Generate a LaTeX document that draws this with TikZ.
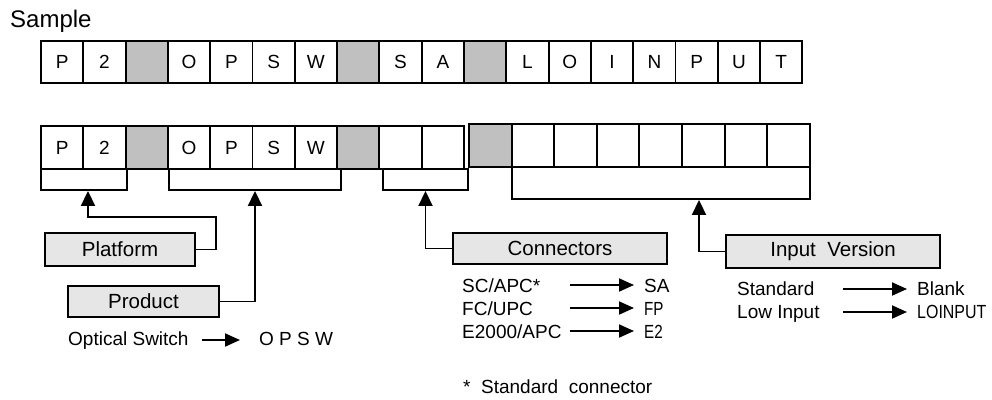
\documentclass[tikz,border=0pt]{standalone}
\usepackage{fontspec}
\setmainfont{Liberation Sans}
\usetikzlibrary{arrows.meta}

\definecolor{cellgray}{RGB}{192,192,192}
\definecolor{boxgray}{RGB}{230,230,230}

\tikzset{
  cell/.style={draw, line width=1.9pt, minimum width=42.3pt, minimum height=42pt,
    inner sep=0pt, font=\fontsize{19}{22}\selectfont},
  graycell/.style={cell, fill=cellgray},
  bracket/.style={draw, line width=1.9pt, inner sep=0pt},
  labelbox/.style={draw, line width=1.9pt, fill=boxgray, inner sep=0pt,
    font=\fontsize{20.5}{24}\selectfont},
  link/.style={line width=1.9pt, -{Triangle[length=15pt,width=14pt]}},
  maparrow/.style={line width=1.9pt, -{Triangle[length=15pt,width=13pt]}},
  txt/.style={anchor=base west, inner sep=0pt, font=\fontsize{19}{22}\selectfont}
}

\begin{document}
\begin{tikzpicture}[x=1pt,y=-1pt]
  \useasboundingbox (0,0) rectangle (992,399);

  \def\xa{41}
  \def\w{42.3}
  \def\xb{469}
  \def\wb{42.6}

  \node[txt, font=\fontsize{24}{28}\selectfont] (sample) at (10,27) {Sample};

  %top row
  \foreach \l [count=\i from 0] in {P,2,-,O,P,S,W,-,S,A,-,L,O,I,N,P,U,T}{
    \if\l-
      \node[graycell] (t\i) at (\xa+\w/2+\i*\w,62) {};
    \else
      \node[cell] (t\i) at (\xa+\w/2+\i*\w,62) {\l};
    \fi
  }

  %bottom row
  \foreach \l [count=\i from 0] in {P,2,-,O,P,S,W,-,.,.}{
    \if\l-
      \node[graycell, minimum height=43pt] (c\i) at (\xa+\w/2+\i*\w,147.5) {};
    \else
      \node[cell, minimum height=43pt] (c\i) at (\xa+\w/2+\i*\w,147.5) {\if\l.\else\l\fi};
    \fi
  }
  \foreach \l [count=\i from 0] in {-,.,.,.,.,.,.,.}{
    \if\l-
      \node[graycell, minimum width=\wb pt, minimum height=43pt] (d\i) at (\xb+\wb/2+\i*\wb,145.5) {};
    \else
      \node[cell, minimum width=\wb pt, minimum height=43pt] (d\i) at (\xb+\wb/2+\i*\wb,145.5) {};
    \fi
  }

  %brackets under the groups
  \node[bracket, minimum width=86pt, minimum height=21pt] (b1) at (84,179.5) {};
  \node[bracket, minimum width=172pt, minimum height=21pt] (b2) at (255,179.5) {};
  \node[bracket, minimum width=85pt, minimum height=21pt] (b3) at (425.5,179.5) {};
  \node[bracket, minimum width=298pt, minimum height=32pt] (b4) at (661,183) {};

  %labels
  \node[labelbox, minimum width=150pt, minimum height=33pt] (platform) at (120,249.5) {Platform};
  \node[labelbox, minimum width=151pt, minimum height=31pt] (product) at (143.5,301.5) {Product};
  \node[labelbox, minimum width=214pt, minimum height=31pt] (connectors) at (560,248.5) {Connectors};
  \node[labelbox, minimum width=214pt, minimum height=33pt] (version) at (833,251.5) {Input\ \ Version};

  \coordinate (k1) at (216,217);
  \draw[link] (platform.east) -| (k1) -| ([xshift=4pt]b1.south);
  \draw[link] (product.east) -| (b2.south);
  \draw[link] (connectors.west) -| (b3.south);
  \draw[link] (version.west) -| ([xshift=38pt]b4.south);

  %product code
  \node[txt] (optical) at (68,345) {Optical Switch};
  \node[txt] (opsw) at (259,345) {O P S W};
  \coordinate (m0) at (202,340);
  \draw[maparrow, shorten >=19pt] (m0) -- (m0 -| opsw.west);

  %connector codes
  \node[txt] (scapc) at (462,292) {SC/APC*};
  \node[txt] (fcupc) at (462,315) {FC/UPC};
  \node[txt] (eapc) at (462,338) {E2000/APC};
  \node[txt] (sa) at (644,292) {SA};
  \node[txt] (fp) at (644,315) {\scalebox{0.8}[1]{FP}};
  \node[txt] (e2) at (644,338) {\scalebox{0.8}[1]{E2}};
  \coordinate (m1) at (570,285);
  \coordinate (m2) at (570,308);
  \coordinate (m3) at (570,331);
  \draw[maparrow, shorten >=10pt] (m1) -- (m1 -| sa.west);
  \draw[maparrow, shorten >=10pt] (m2) -- (m2 -| fp.west);
  \draw[maparrow, shorten >=10pt] (m3) -- (m3 -| e2.west);

  %input version codes
  \node[txt] (standard) at (737,295) {Standard};
  \node[txt] (lowinput) at (737,318) {Low Input};
  \node[txt] (blank) at (917,295) {Blank};
  \node[txt] (loinput) at (917,318) {\scalebox{0.84}[1]{LOINPUT}};
  \coordinate (m4) at (843,289);
  \coordinate (m5) at (843,312);
  \draw[maparrow, shorten >=10pt] (m4) -- (m4 -| blank.west);
  \draw[maparrow, shorten >=10pt] (m5) -- (m5 -| loinput.west);

  \node[txt] (note) at (463,393) {*\ \ Standard\ \ connector};

\end{tikzpicture}
\end{document}
